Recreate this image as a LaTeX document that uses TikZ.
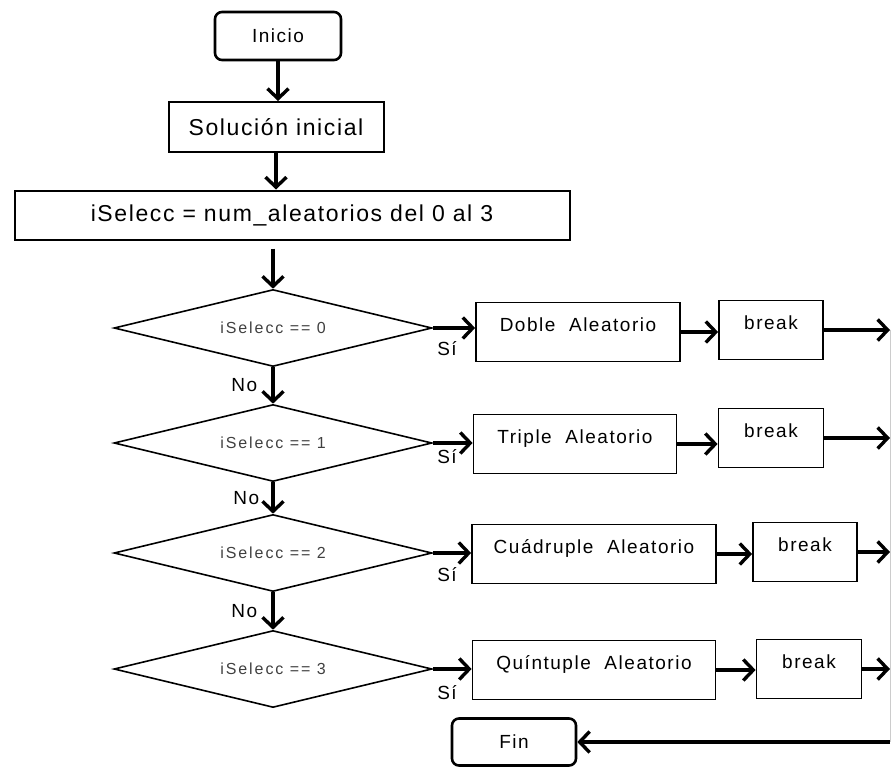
\documentclass[tikz,border=0pt]{standalone}
\usepackage{fontspec}
\setmainfont{Liberation Sans}
\newfontfamily\bigfont[LetterSpace=7]{Liberation Sans}
\newfontfamily\boxfont[LetterSpace=8]{Liberation Sans}
\newfontfamily\decfont[LetterSpace=12]{Liberation Sans}
\usetikzlibrary{arrows.meta,shapes.geometric}
\def\rail{890}

\begin{document}
\begin{tikzpicture}
    [
        x=1pt, y=-1pt,
        >={Straight Barb[length=10pt,width=21pt]},
        myterm/.style={draw, rounded corners=7pt, line width=2.6pt, inner sep=0pt,
            minimum width=126pt, minimum height=48pt, font=\boxfont\fontsize{19}{22}\selectfont},
        myproc/.style={draw, line width=2pt, inner sep=0pt, minimum height=50pt,
            font=\bigfont\fontsize{23}{26}\selectfont},
        mybox/.style={draw, line width=1.8pt, inner sep=0pt, minimum height=59pt,
            text height=14pt, text depth=15pt, font=\boxfont\fontsize{19}{22}\selectfont},
        mydec/.style={draw, diamond, aspect=4, line width=1.6pt, inner sep=0pt,
            minimum width=318pt, minimum height=77pt, text=black!75,
            font=\decfont\fontsize{16}{18}\selectfont},
        myLbl/.style={inner sep=0pt, font=\boxfont\fontsize{19}{22}\selectfont},
        lineTh/.style={->, line width=3.4pt},
        rim/.style={black!20, line width=1pt}
    ]
    \coordinate (rail) at (\rail,0);

    % start and first steps
    \node[myterm] (inicio) at (278,36) {Inicio};
    \node[myproc, minimum width=215pt] (sol) at (276,127) {Solución inicial};
    \node[myproc, minimum width=555pt, minimum height=49pt] (sel) at (292,215)
        {iSelecc = num\_aleatorios del 0 al 3};

    % decisions
    \node[mydec] (d0) at (273,328) {iSelecc == 0};
    \node[mydec] (d1) at (273,443) {iSelecc == 1};
    \node[mydec] (d2) at (273,553) {iSelecc == 2};
    \node[mydec] (d3) at (273,669) {iSelecc == 3};

    % cases
    \node[mybox, minimum width=204pt] (doble) at (578,332) {Doble\ \ Aleatorio};
    \node[mybox, minimum width=104pt] (brk0) at (771,330) {break};
    \node[mybox, minimum width=203pt] (triple) at (575,444) {Triple\ \ Aleatorio};
    \node[mybox, minimum width=105pt] (brk1) at (771,438) {break};
    \node[mybox, minimum width=244pt] (cuad) at (594,554) {Cuádruple\ \ Aleatorio};
    \node[mybox, minimum width=104pt] (brk2) at (805,552) {break};
    \node[mybox, minimum width=243pt] (quin) at (594,670) {Quíntuple\ \ Aleatorio};
    \node[mybox, minimum width=105pt] (brk3) at (809,669) {break};

    \node[myterm, minimum width=124pt, minimum height=47pt] (fin) at (514,742) {Fin};

    % main line
    \draw[lineTh] (inicio.south) -- (inicio.south |- sol.north);
    \draw[lineTh] (sol.south) -- (sol.south |- sel.north);
    \draw[lineTh, shorten <=8pt] (sel.south -| d0.north) -- (d0.north);
    \draw[lineTh] (d0.south) -- (d1.north) node[myLbl, midway, left=14pt] (no0) {No};
    \draw[lineTh] (d1.south) -- (d2.north) node[myLbl, midway, left=12pt] (no1) {No};
    \draw[lineTh] (d2.south) -- (d3.north) node[myLbl, midway, left=14pt] (no2) {No};

    \node[myLbl] (si0) at (447,349) {Sí};
    \node[myLbl] (si1) at (447,457) {Sí};
    \node[myLbl] (si2) at (447,575) {Sí};
    \node[myLbl] (si3) at (447,693) {Sí};

    \draw[lineTh] (d0.east) -- (d0.east -| doble.west);
    \draw[lineTh] (d1.east) -- (d1.east -| triple.west);
    \draw[lineTh] (d2.east) -- (d2.east -| cuad.west);
    \draw[lineTh] (d3.east) -- (d3.east -| quin.west);

    \draw[lineTh] (doble.east) -- (doble.east -| brk0.west);
    \draw[lineTh] (triple.east) -- (triple.east -| brk1.west);
    \draw[lineTh] (cuad.east) -- (cuad.east -| brk2.west);
    \draw[lineTh] (quin.east) -- (quin.east -| brk3.west);

    \draw[lineTh] (brk0.east) -- (brk0.east -| rail);
    \draw[lineTh] (brk1.east) -- (brk1.east -| rail);
    \draw[lineTh] (brk2.east) -- (brk2.east -| rail);
    \draw[lineTh] (brk3.east) -- (brk3.east -| rail);

    % back to the end
    \draw[rim] (brk0.east -| rail) -- (fin.east -| rail);
    \draw[lineTh] (fin.east -| rail) -- (fin.east);

    \pgfresetboundingbox
    \useasboundingbox (0,0) rectangle (891,768);
\end{tikzpicture}
\end{document}
